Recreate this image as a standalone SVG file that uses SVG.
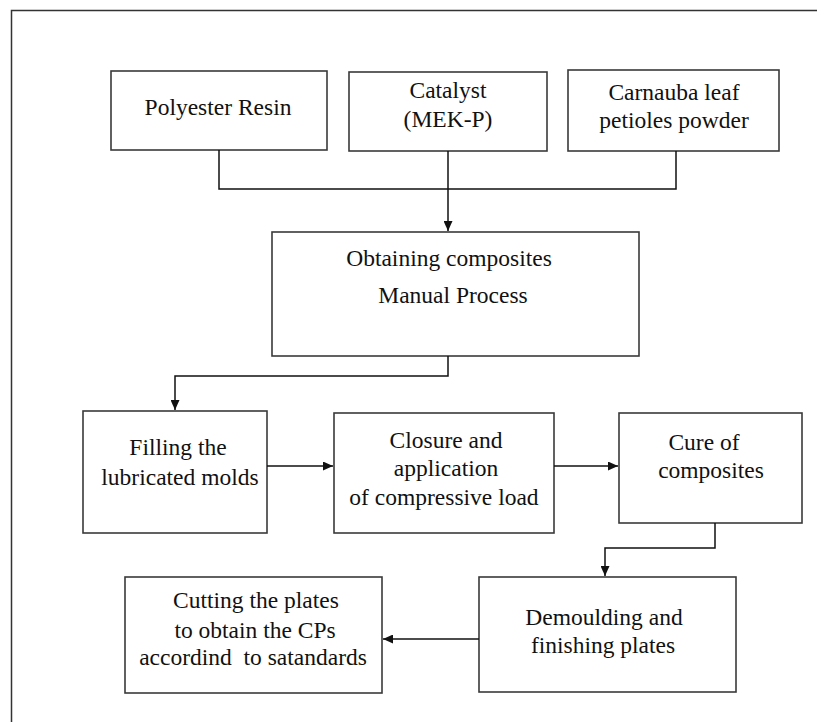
<svg xmlns="http://www.w3.org/2000/svg" width="817" height="722" viewBox="0 0 817 722">
<style>
.box{fill:#fff;stroke:#3a3a3a;stroke-width:1.6}
.t{font-family:"Liberation Serif","Times New Roman",serif;font-size:23.5px;fill:#111;text-anchor:middle}
.c{fill:none;stroke:#111;stroke-width:1.5}
</style>
<defs>
<marker id="ah" viewBox="0 0 10 10" refX="10" refY="5" markerWidth="10" markerHeight="9" markerUnits="userSpaceOnUse" orient="auto" preserveAspectRatio="none">
<path d="M0,0 L10,5 L0,10 z" fill="#111"/>
</marker>
</defs>
<rect width="817" height="722" fill="#fff"/>
<path d="M11.5,722 V10.5 H817" fill="none" stroke="#333" stroke-width="1.5"/>
<g id="n-polyester"><rect class="box" x="111" y="71" width="216" height="79"/><text class="t" x="218" y="115">Polyester Resin</text></g>
<g id="n-catalyst"><rect class="box" x="349" y="72" width="198" height="79"/><text class="t" x="448" y="98">Catalyst</text><text class="t" x="448" y="127">(MEK-P)</text></g>
<g id="n-carnauba"><rect class="box" x="568" y="70" width="211" height="81"/><text class="t" x="674" y="100">Carnauba leaf</text><text class="t" x="674" y="128">petioles powder</text></g>
<g id="n-obtaining"><rect class="box" x="272" y="232" width="367" height="124"/><text class="t" x="449" y="266">Obtaining composites</text><text class="t" x="453" y="303">Manual Process</text></g>
<g id="n-filling"><rect class="box" x="83" y="411" width="184" height="122"/><text class="t" x="178" y="455">Filling the</text><text class="t" x="180" y="485">lubricated molds</text></g>
<g id="n-closure"><rect class="box" x="334" y="413" width="220" height="120"/><text class="t" x="446" y="448">Closure and</text><text class="t" x="446" y="476">application</text><text class="t" x="444" y="505">of compressive load</text></g>
<g id="n-cure"><rect class="box" x="619" y="413" width="183" height="110"/><text class="t" x="704" y="450">Cure of</text><text class="t" x="711" y="478">composites</text></g>
<g id="n-demoulding"><rect class="box" x="479" y="577" width="257" height="115"/><text class="t" x="604" y="625">Demoulding and</text><text class="t" x="603" y="653">finishing plates</text></g>
<g id="n-cutting"><rect class="box" x="125" y="577" width="257" height="116"/><text class="t" x="256" y="608">Cutting the plates</text><text class="t" x="255" y="638">to obtain the CPs</text><text class="t" x="253" y="665" xml:space="preserve">accordind  to satandards</text></g>
<g id="connectors">
<path class="c" d="M219,150 V189 H676 V151"/>
<path class="c" d="M448,151 V231" marker-end="url(#ah)"/>
<path class="c" d="M448,356 V376 H175 V410" marker-end="url(#ah)"/>
<path class="c" d="M267,466 H333" marker-end="url(#ah)"/>
<path class="c" d="M554,466 H618" marker-end="url(#ah)"/>
<path class="c" d="M715,523 V548 H605 V576" marker-end="url(#ah)"/>
<path class="c" d="M479,639 H383" marker-end="url(#ah)"/>
</g>
</svg>
